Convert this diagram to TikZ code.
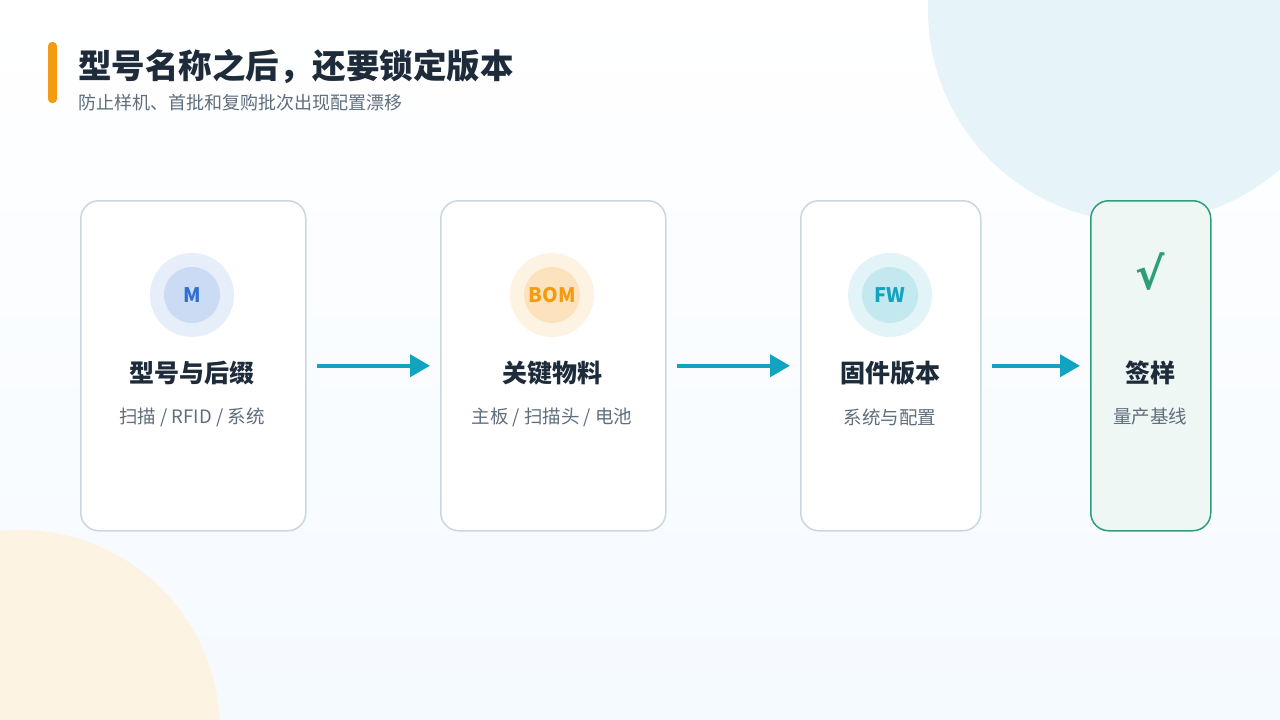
\documentclass[tikz,border=0pt]{standalone}
\usepackage{fontspec}
\setmainfont{Noto Sans CJK SC}
\newfontfamily\checkfont{DejaVu Sans}
\usetikzlibrary{arrows.meta}
\definecolor{InkDark}{HTML}{1E2B3A}
\definecolor{InkGray}{HTML}{5F6E7C}
\definecolor{CardLine}{HTML}{C9D7E1}
\definecolor{FlowTeal}{HTML}{12A3C0}
\definecolor{SignGreen}{HTML}{2E9E7A}
\definecolor{AccentOrange}{HTML}{F39C12}
\definecolor{ModelBlue}{HTML}{2F6FD0}
\definecolor{BlobBlue}{HTML}{E6F4F9}
\tikzset{
  card/.style={draw=CardLine, line width=1.5pt, fill=white, rounded corners=18pt, anchor=north west, inner sep=0pt},
  cardtitle/.style={font=\fontsize{25}{28}\selectfont\bfseries, text=InkDark},
  cardnote/.style={font=\fontsize{18.5}{20}\selectfont, text=InkGray},
  badge/.style={circle, minimum size=56pt, inner sep=0pt, font=\fontsize{20}{24}\selectfont\bfseries},
  flow/.style={draw=FlowTeal, line width=4pt, -{Triangle[length=20pt,width=22pt]}, shorten <=10pt, shorten >=10pt},
}
\begin{document}
\begin{tikzpicture}[x=1pt,y=-1pt]
		% background and decorative circles
		\fill[top color=white, bottom color=blue!50!cyan!4] (0,0) rectangle (1280,720);
		\useasboundingbox (0,0) rectangle (1280,720);
		\begin{scope}
			\clip (0,0) rectangle (1280,720);
			\fill[BlobBlue] (1140,10) circle (212);
			\fill[AccentOrange!12!white] (20,730) circle (200);
		\end{scope}

		% heading
		\fill[AccentOrange, rounded corners=4pt] (48,42) rectangle (57,103);
		\node[anchor=west, inner sep=0pt, font=\fontsize{33.5}{36}\selectfont\bfseries, text=InkDark] (title) at (78,67) {型号名称之后，还要锁定版本};
		\node[anchor=west, inner sep=0pt, font=\fontsize{18}{20}\selectfont, text=InkGray] (subtitle) at (78,103) {防止样机、首批和复购批次出现配置漂移};

		% cards
		\node[card, minimum width=225pt, minimum height=330pt] (model) at (80,200) {};
		\node[card, minimum width=225pt, minimum height=330pt] (bom) at (440,200) {};
		\node[card, minimum width=180pt, minimum height=330pt] (fw) at (800,200) {};
		\node[card, draw=SignGreen, fill=SignGreen!8!white, minimum width=120pt, minimum height=330pt] (sign) at (1090,200) {};

		% badges
		\fill[ModelBlue!12!white] (192,295) circle (42);
		\node[badge, fill=ModelBlue!25!white, text=ModelBlue] (modelicon) at (192,295) {M};
		\fill[AccentOrange!12!white] (552,295) circle (42);
		\node[badge, fill=AccentOrange!28!white, text=AccentOrange] (bomicon) at (552,295) {BOM};
		\fill[FlowTeal!12!white] (890,295) circle (42);
		\node[badge, fill=FlowTeal!25!white, text=FlowTeal] (fwicon) at (890,295) {FW};
		\node[text=SignGreen, font=\checkfont\fontsize{44}{48}\selectfont\bfseries] (signicon) at (1150,272) {√};

		% card texts
		\node[cardtitle] (modeltitle) at (192,373) {型号与后缀};
		\node[cardnote] (modelnote) at (192,417) {扫描 / RFID / 系统};
		\node[cardtitle] (bomtitle) at (552,373) {关键物料};
		\node[cardnote] (bomnote) at (552,417) {主板 / 扫描头 / 电池};
		\node[cardtitle] (fwtitle) at (890,373) {固件版本};
		\node[cardnote] (fwnote) at (890,417) {系统与配置};
		\node[cardtitle] (signtitle) at (1150,373) {签样};
		\node[cardnote] (signnote) at (1150,417) {量产基线};

		% flow arrows
		\draw[flow] (model.east) -- (bom.west);
		\draw[flow] (bom.east) -- (fw.west);
		\draw[flow] (fw.east) -- (sign.west);
	\end{tikzpicture}
\end{document}
